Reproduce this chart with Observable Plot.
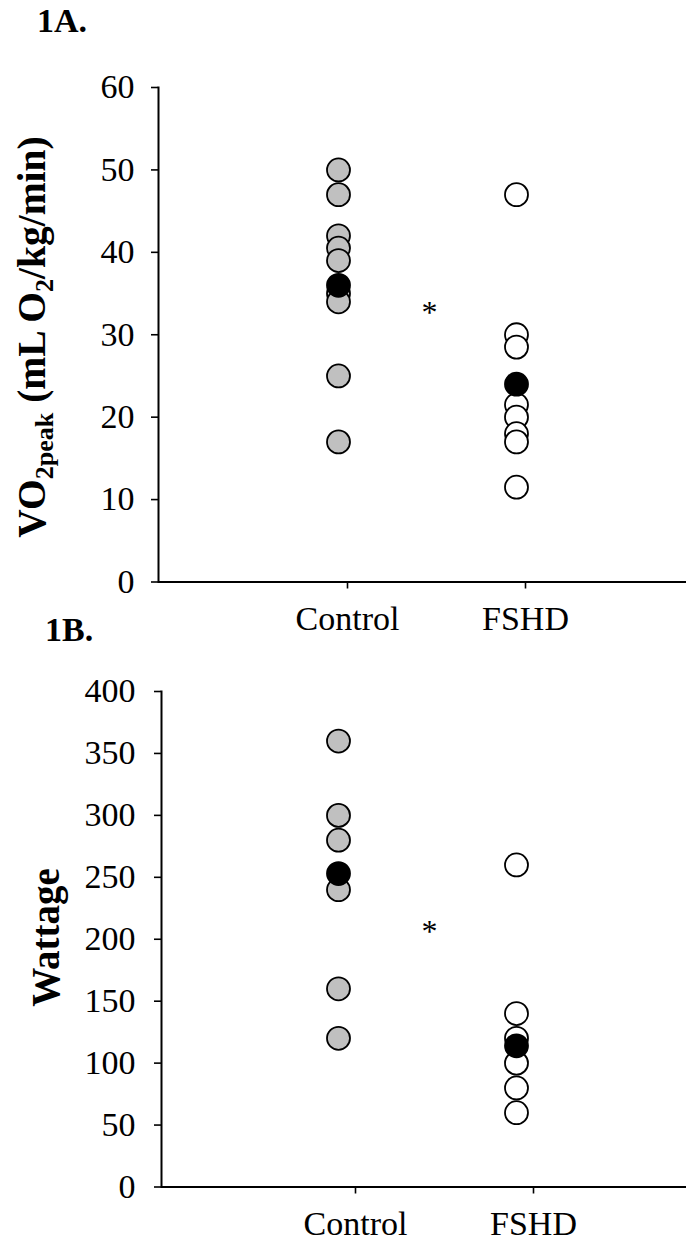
<!DOCTYPE html>
<html>
<head>
<meta charset="utf-8">
<script src="https://cdn.jsdelivr.net/npm/d3@7"></script>
<script src="https://cdn.jsdelivr.net/npm/@observablehq/plot@0.6"></script>
<style>
  html, body { margin: 0; padding: 0; background: #ffffff; }
  #wrap { position: relative; width: 686px; height: 1243px; overflow: hidden;
          font-family: 'Liberation Serif', 'Times New Roman', serif; color: #000; }
  .panel { position: absolute; left: 0; }
  .tag { position: absolute; font-weight: bold; font-size: 34px; line-height: 34px; }
  svg { overflow: visible; font-family: 'Liberation Serif', 'Times New Roman', serif !important; }
  svg text { font-family: 'Liberation Serif', 'Times New Roman', serif; }
</style>
</head>
<body>
<div id="wrap">
  <div class="panel" id="pa" style="top:0px"></div>
  <div class="panel" id="pb" style="top:640px"></div>
  <div class="tag" style="left:37px; top:4px">1A.</div>
  <div class="tag" style="left:45px; top:613px">1B.</div>
</div>
<script>
// ---- data ----
const groups = ["Control", "FSHD"];
const vo2Control = [50, 47, 42, 40.5, 39, 35, 34, 25, 17];
const vo2Fshd = [47, 30, 28.5, 21.5, 20, 18, 17, 11.5];
const vo2Mean = [36, 24];
const vo2Ticks = [0, 10, 20, 30, 40, 50, 60];
const vo2Star = 33.3;

const wattControl = [360, 300, 280, 240, 160, 120];
const wattFshd = [260, 140, 120, 100, 80, 60];
const wattMean = [253, 114];
const wattTicks = [0, 50, 100, 150, 200, 250, 300, 350, 400];
const wattStar = 210;

const groupFills = ["#c0c0c0", "#ffffff"];
const xDomain = ["Control", " ", "FSHD"];
const serif = "Liberation Serif, Times New Roman, serif";

function rows(control, fshd) {
  return [
    ...control.map(v => ({group: "Control", value: v})),
    ...fshd.map(v => ({group: "FSHD", value: v}))
  ];
}

function panel({control, fshd, mean, ticks, star, height, marginTop, marginBottom, marginLeft, tickPadY, dxLabel}) {
  const data = rows(control, fshd);
  const means = groups.map((g, i) => ({group: g, value: mean[i]}));
  return Plot.plot({
    width: 686,
    height,
    marginLeft,
    marginRight: 0,
    marginTop,
    marginBottom,
    style: {fontFamily: serif, fontSize: "34px", color: "black", background: "white", overflow: "visible"},
    x: {type: "point", domain: xDomain, range: [338, 516], padding: 0},
    y: {domain: [ticks[0], ticks[ticks.length - 1]]},
    color: {domain: groups, range: groupFills},
    marks: [
      Plot.frame({anchor: "left", strokeWidth: 2, stroke: "black"}),
      Plot.ruleY([0], {strokeWidth: 2, stroke: "black"}),
      Plot.axisY({ticks, tickSize: 7, tickPadding: tickPadY, label: null, fontSize: 34, strokeWidth: 1.6}),
      Plot.axisX({ticks: groups, tickSize: 7, tickPadding: 17, label: null, fontSize: 34, dx: dxLabel, strokeWidth: 1.6}),
      Plot.dot(data, {x: "group", y: "value", r: 11.5, fill: "group", stroke: "black", strokeWidth: 1.8}),
      Plot.dot(means, {x: "group", y: "value", r: 11.5, fill: "black", stroke: "black", strokeWidth: 1.8}),
      Plot.text([star], {x: () => " ", y: d => d, text: () => "*", fontSize: 32, dx: 2, dy: 5})
    ]
  });
}

const chartA = panel({control: vo2Control, fshd: vo2Fshd, mean: vo2Mean, ticks: vo2Ticks, star: vo2Star,
  height: 640, marginTop: 87, marginBottom: 58.5, marginLeft: 158, tickPadY: 17, dxLabel: 9});
const chartB = panel({control: wattControl, fshd: wattFshd, mean: wattMean, ticks: wattTicks, star: wattStar,
  height: 603, marginTop: 51, marginBottom: 56.5, marginLeft: 161, tickPadY: 19, dxLabel: 17});

document.getElementById("pa").appendChild(chartA);
document.getElementById("pb").appendChild(chartB);

// y axis titles (bold, rotated, with subscripts)
const ta = d3.select(chartA).append("text")
  .attr("transform", "translate(45,337) rotate(-90)")
  .attr("text-anchor", "middle")
  .attr("font-weight", "bold")
  .attr("font-size", 39.5)
  .attr("font-family", serif)
  .attr("fill", "black");
ta.append("tspan").text("VO");
ta.append("tspan").attr("font-size", 26).attr("dy", 8).text("2peak");
ta.append("tspan").attr("dy", -8).text(" (mL O");
ta.append("tspan").attr("font-size", 26).attr("dy", 8).text("2");
ta.append("tspan").attr("dy", -8).text("/kg/min)");

d3.select(chartB).append("text")
  .attr("transform", "translate(59,297.5) rotate(-90)")
  .attr("text-anchor", "middle")
  .attr("font-weight", "bold")
  .attr("font-size", 39)
  .attr("font-family", serif)
  .attr("fill", "black")
  .text("Wattage");
</script>
</body>
</html>
